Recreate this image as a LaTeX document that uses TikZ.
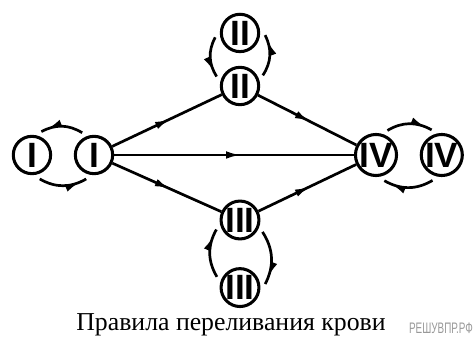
\documentclass[tikz,border=0pt]{standalone}
\usepackage{fontspec}
\setmainfont{Liberation Serif}
\newfontfamily\numfont{Liberation Sans}
\usetikzlibrary{positioning, arrows.meta, decorations.markings}

\begin{document}
\begin{tikzpicture}[
    x=0.03cm, y=0.03cm,
    >={Latex[length=13pt,width=6.5pt]},
    group/.style={circle, draw, line width=2.6pt, minimum size=1.12cm, inner sep=0pt,
                  font=\numfont\bfseries\fontsize{30}{30}\selectfont},
    flow/.style={line width=2.3pt, postaction={decorate},
                 decoration={markings, mark=at position 0.53 with {\arrow{>}}}},
    swap/.style={line width=2.3pt, postaction={decorate},
                 decoration={markings, mark=at position 0.86 with {\arrow{>}}}},
    caption/.style={font=\fontsize{22}{24}\selectfont},
    watermark/.style={font=\numfont\fontsize{13}{13}\selectfont, text=gray!80}
]
\useasboundingbox (0,0) rectangle (476,347);
% --- Группы крови ---
\node[group] (Ib) at (94,192) {I};
\node[group, left=0.65cm of Ib] (Ia) {I};
\node[group] (IIb) at (240,261) {II};
\node[group, above=0.38cm of IIb] (IIa) {II};
\node[group] (IIIb) at (240,127) {III};
\node[group, below=0.8cm of IIIb] (IIIa) {III};
\node[group] (IVa) at (376,192) {IV};
\node[group, right=0.65cm of IVa] (IVb) {IV};
% --- Переливание ---
\foreach \a/\b in {Ib/IIb, Ib/IVa, Ib/IIIb, IIb/IVa, IIIb/IVa}
    \draw[flow] (\a) -- (\b);
% --- Одноимённые группы ---
\draw[swap] ([shift={(118:5)}]Ib.118) to[bend right=30] ([shift={(68:5)}]Ia.68);
\draw[swap] ([shift={(-72:5)}]Ia.-72) to[bend right=30] ([shift={(-108:5)}]Ib.-108);
\draw[swap] ([shift={(190:5)}]IIa.190) to[bend right=30] ([shift={(158:5)}]IIb.158);
\draw[swap] ([shift={(25:5)}]IIb.25) to[bend right=30] ([shift={(-5:5)}]IIa.-5);
\draw[swap] ([shift={(155:5)}]IIIa.155) to[bend left=30] ([shift={(202:5)}]IIIb.202);
\draw[swap] ([shift={(-28:5)}]IIIb.-28) to[bend left=30] ([shift={(8:5)}]IIIa.8);
\draw[swap] ([shift={(65:5)}]IVa.65) to[bend left=30] ([shift={(112:5)}]IVb.112);
\draw[swap] ([shift={(-110:5)}]IVb.-110) to[bend left=30] ([shift={(-72:5)}]IVa.-72);
% --- Подписи ---
\node[caption] (title) at (231,22) {Правила переливания крови};
\node[watermark] (site) at (441,19) {\scalebox{0.65}[1]{РЕШУВПР.РФ}};
\end{tikzpicture}
\end{document}
